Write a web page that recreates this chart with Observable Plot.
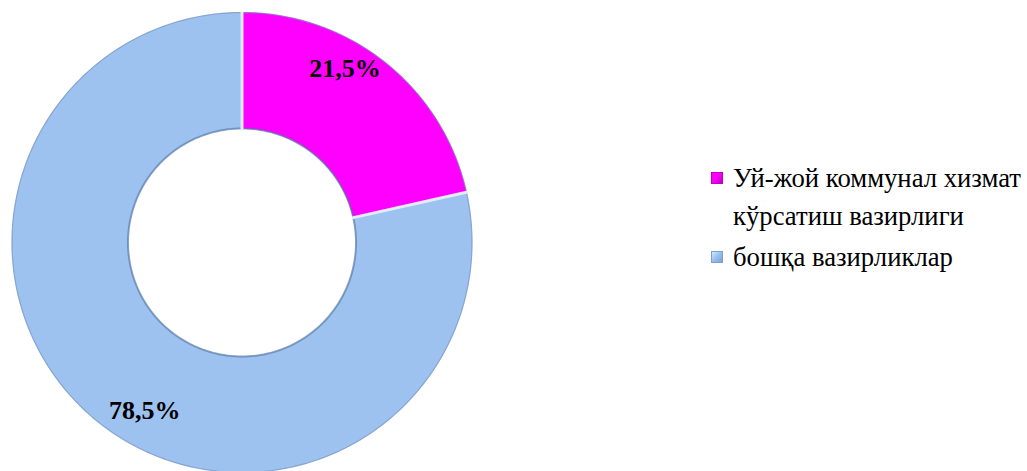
<!DOCTYPE html>
<html>
<head>
<meta charset="utf-8">
<script src="https://cdn.jsdelivr.net/npm/d3@7"></script>
<script src="https://cdn.jsdelivr.net/npm/@observablehq/plot@0.6"></script>
<style>
  html, body { margin: 0; padding: 0; background: #fff; }
  #wrap { position: relative; width: 1027px; height: 471px; overflow: hidden; }
  #legend { position: absolute; left: 711px; top: 159px; font-family: "Liberation Serif", "Times New Roman", serif; font-size: 26.7px; color: #000; }
  .item { display: flex; align-items: flex-start; }
  .sw { width: 12px; height: 12px; margin-top: 13px; margin-right: 10px; flex: none; box-sizing: border-box; }
  .txt { line-height: 38px; }
</style>
</head>
<body>
<div id="wrap"></div>
<script>
// ---- data ----
const categories = ["Уй-жой коммунал хизмат кўрсатиш вазирлиги", "бошқа вазирликлар"];
const legendLines = [["Уй-жой коммунал хизмат", "кўрсатиш вазирлиги"], ["бошқа вазирликлар"]];
const shares = [21.5, 78.5];
const labels = ["21,5%", "78,5%"];

// ---- style / layout ----
const colors = ["#ff00ff", "#9dc2f0"];
const edgeColors = ["#c000c0", "#7f9fcf"];
const innerFrac = 114 / 230;
const labelLayout = [{angle: 30.7, r: 0.878}, {angle: 210.1, r: 0.843}];

const total = d3.sum(shares);
let acc = 0;
const slices = shares.map((v, i) => {
  const a0 = acc / total * 2 * Math.PI;
  acc += v;
  const a1 = acc / total * 2 * Math.PI;
  return {key: categories[i], a0, a1, i};
});

// polygon points for each ring slice (angles clockwise from top)
const pts = [];
for (const s of slices) {
  const n = Math.max(8, Math.ceil((s.a1 - s.a0) / (Math.PI / 180)));
  for (let k = 0; k <= n; k++) {
    const a = s.a0 + (s.a1 - s.a0) * k / n;
    pts.push({key: s.key, x: Math.sin(a), y: Math.cos(a)});
  }
  for (let k = n; k >= 0; k--) {
    const a = s.a0 + (s.a1 - s.a0) * k / n;
    pts.push({key: s.key, x: innerFrac * Math.sin(a), y: innerFrac * Math.cos(a)});
  }
}

// outline arcs for bevel-like shading
const innerRing = [], outerRing = [];
for (let k = 0; k <= 360; k++) {
  const a = k / 360 * 2 * Math.PI;
  innerRing.push({x: innerFrac * Math.sin(a), y: innerFrac * Math.cos(a)});
  outerRing.push({x: Math.sin(a), y: Math.cos(a)});
}
const boundaries = slices.map(s => [
  {x: innerFrac * Math.sin(s.a0), y: innerFrac * Math.cos(s.a0), key: s.key},
  {x: Math.sin(s.a0), y: Math.cos(s.a0), key: s.key}
]).flat();

const labelData = slices.map((s, i) => {
  const a = labelLayout[i].angle * Math.PI / 180;
  return {text: labels[i], x: labelLayout[i].r * Math.sin(a), y: labelLayout[i].r * Math.cos(a)};
});

const H = 471;
const R = 230;
const chart = Plot.plot({
  width: 1027,
  height: H,
  marginLeft: 11.5,
  marginRight: 1027 - 11.5 - 2 * R,
  marginTop: 12,
  marginBottom: 0,
  x: {domain: [-1, 1], axis: null},
  y: {domain: [1 - (H - 12) / R, 1], axis: null},
  color: {domain: categories, range: colors},
  style: {background: "white", overflow: "visible"},
  marks: [
    Plot.line(pts, {x: "x", y: "y", z: "key", fill: "key", stroke: "key", strokeWidth: 0.6, curve: "linear-closed"}),
    // dark shading at inner and outer edges
    Plot.line(innerRing, {x: "x", y: "y", stroke: "#4f6f9f", strokeWidth: 2, strokeOpacity: 0.6}),
    Plot.line(outerRing, {x: "x", y: "y", stroke: "#6d8ab8", strokeWidth: 1.2, strokeOpacity: 0.6}),
    // light bevel separators between slices
    Plot.line(boundaries, {x: "x", y: "y", z: "key", stroke: "#e4ecf8", strokeWidth: 3}),
    Plot.text(labelData, {x: "x", y: "y", text: "text", fontSize: 26, fontWeight: "bold", fontFamily: "Liberation Serif, Times New Roman, serif", fill: "#000"})
  ]
});

const wrap = document.getElementById("wrap");
wrap.appendChild(chart);

const legend = document.createElement("div");
legend.id = "legend";
legendLines.forEach((lines, i) => {
  const item = document.createElement("div");
  item.className = "item";
  if (i > 0) item.style.marginTop = "3px";
  const sw = document.createElement("div");
  sw.className = "sw";
  sw.style.background = `linear-gradient(135deg, ${d3.color(colors[i]).brighter(0.6)} 0%, ${colors[i]} 45%, ${edgeColors[i]} 100%)`;
  sw.style.border = `1px solid ${edgeColors[i]}`;
  const txt = document.createElement("div");
  txt.className = "txt";
  txt.innerHTML = lines.join("<br>");
  item.appendChild(sw);
  item.appendChild(txt);
  legend.appendChild(item);
});
wrap.appendChild(legend);
</script>
</body>
</html>
